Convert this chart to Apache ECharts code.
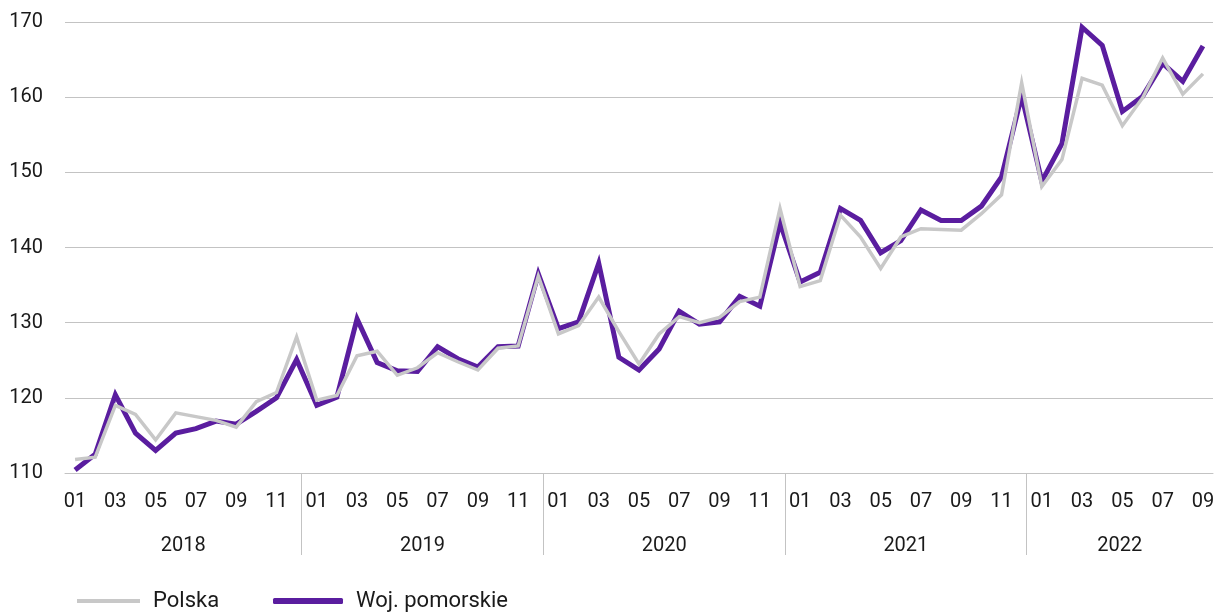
<!DOCTYPE html>
<html>
<head>
<meta charset="utf-8">
<script src="https://cdn.jsdelivr.net/npm/echarts@6/dist/echarts.min.js"></script>
<style>
  html, body { margin: 0; padding: 0; background: #ffffff; }
  #chart { width: 1218px; height: 612px; }
</style>
</head>
<body>
<div id="chart"></div>
<script>
const monthLabels = [
  '01','02','03','04','05','06','07','08','09','10','11','12',
  '01','02','03','04','05','06','07','08','09','10','11','12',
  '01','02','03','04','05','06','07','08','09','10','11','12',
  '01','02','03','04','05','06','07','08','09','10','11','12',
  '01','02','03','04','05','06','07','08','09'
];
const years = ['2018', '2019', '2020', '2021', '2022'];
const monthsPerYear = [12, 12, 12, 12, 9];
const yTicks = [110, 120, 130, 140, 150, 160, 170];

const polska = [
  111.8, 112.1, 119.0, 117.8, 114.4, 118.0, 117.5, 117.0, 116.1, 119.5, 120.7, 128.1,
  119.7, 120.3, 125.6, 126.2, 123.0, 124.0, 126.0, 124.8, 123.7, 126.6, 126.9, 136.2,
  128.5, 129.6, 133.4, 128.8, 124.5, 128.5, 130.8, 130.0, 130.7, 132.8, 133.4, 145.2,
  134.8, 135.6, 144.3, 141.4, 137.2, 141.4, 142.5, 142.4, 142.3, 144.5, 147.0, 161.9,
  148.1, 151.7, 162.5, 161.6, 156.2, 159.9, 165.2, 160.4, 163.1
];
const pomorskie = [
  110.4, 112.5, 120.4, 115.3, 113.0, 115.3, 115.9, 116.9, 116.5, 118.2, 120.0, 125.1,
  119.0, 120.1, 130.5, 124.7, 123.6, 123.5, 126.8, 125.2, 124.1, 126.8, 126.9, 136.5,
  129.2, 130.1, 137.9, 125.4, 123.7, 126.5, 131.5, 129.8, 130.1, 133.5, 132.2, 143.3,
  135.4, 136.7, 145.2, 143.6, 139.3, 140.9, 145.0, 143.6, 143.6, 145.5, 149.4, 160.2,
  148.8, 153.8, 169.3, 166.9, 158.1, 160.1, 164.5, 162.1, 166.8
];

// Fine slots (eighths of a month) for the year axis: separators sit just before each new year,
// labels centred between separators.
const SUB = 8;
const N = monthLabels.length;
const yearSlots = new Array(SUB * N + 1).fill('');
const labIdx = new Set();
const sepIdx = new Set();
const seps = [0];
let cum = 0;
monthsPerYear.forEach((c, i) => {
  cum += c;
  seps.push(i < monthsPerYear.length - 1 ? SUB * cum - 2 : SUB * N);
});
years.forEach((y, i) => {
  const mid = Math.round((seps[i] + seps[i + 1]) / 2);
  yearSlots[mid] = y;
  labIdx.add(mid);
  if (i > 0) sepIdx.add(seps[i]);
});

const FONT = 'Roboto';
const TXT = '#1a1a1a';
const GRID = '#c3c3c3';
const PURPLE = '#5a1d9f';
const GRAY = '#c8c8c8';

const chart = echarts.init(document.getElementById('chart'));
chart.setOption({
  animation: false,
  backgroundColor: '#ffffff',
  grid: { left: 65, right: 5, top: 22, bottom: 139, containLabel: false },
  legend: [
    {
      data: ['Polska'], left: 77, top: 590, padding: 0,
      icon: 'rect', itemWidth: 63, itemHeight: 4,
      textStyle: { fontFamily: FONT, fontSize: 22, color: TXT, padding: [8, 0, 0, 8] }
    },
    {
      data: ['Woj. pomorskie'], left: 273, top: 590, padding: 0,
      icon: 'roundRect', itemWidth: 70, itemHeight: 6,
      textStyle: { fontFamily: FONT, fontSize: 22, color: TXT, padding: [8, 0, 0, 8] }
    }
  ],
  xAxis: [
    {
      type: 'category',
      data: monthLabels,
      boundaryGap: true,
      axisLine: { show: true, lineStyle: { color: GRID, width: 1 } },
      axisTick: { show: false },
      axisLabel: { interval: 1, margin: 19, fontFamily: FONT, fontSize: 20, color: TXT }
    },
    {
      type: 'category',
      data: yearSlots,
      boundaryGap: false,
      position: 'bottom',
      axisLine: { show: false },
      axisTick: {
        show: true, length: 82,
        interval: (idx) => sepIdx.has(idx),
        lineStyle: { color: GRID, width: 1 }
      },
      axisLabel: {
        interval: (idx) => labIdx.has(idx),
        margin: 63, fontFamily: FONT, fontSize: 20, color: TXT
      }
    }
  ],
  yAxis: {
    type: 'value',
    min: yTicks[0], max: yTicks[yTicks.length - 1], interval: 10,
    axisLine: { show: false },
    axisTick: { show: false },
    splitLine: { show: true, lineStyle: { color: GRID, width: 1 } },
    axisLabel: { margin: 22, fontFamily: FONT, fontSize: 20, color: TXT }
  },
  series: [
    {
      name: 'Woj. pomorskie', type: 'line', data: pomorskie,
      xAxisIndex: 0, showSymbol: false, symbol: 'none',
      color: PURPLE,
      itemStyle: { color: PURPLE },
      lineStyle: { color: PURPLE, width: 5, join: 'miter' },
      z: 2
    },
    {
      name: 'Polska', type: 'line', data: polska,
      xAxisIndex: 0, showSymbol: false, symbol: 'none',
      color: GRAY,
      itemStyle: { color: GRAY },
      lineStyle: { color: GRAY, width: 3.5, join: 'miter' },
      z: 3
    }
  ]
});
</script>
</body>
</html>
